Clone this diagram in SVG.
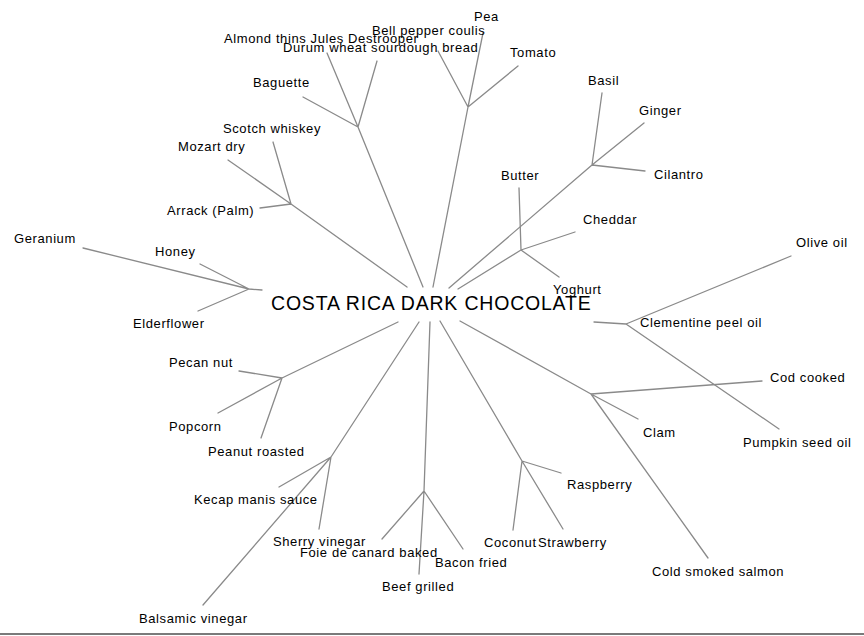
<svg xmlns="http://www.w3.org/2000/svg" width="864" height="636" viewBox="0 0 864 636">
<style>
.e{stroke:#8a8a8a;stroke-width:1.3;fill:none;stroke-linecap:round}
.l{font-family:"Liberation Sans",Arial,sans-serif;font-size:13px;letter-spacing:0.6px;fill:#000}
.t{font-family:"Liberation Sans",Arial,sans-serif;font-size:19.5px;letter-spacing:0.8px;fill:#000}
</style>
<rect width="864" height="636" fill="#fff"/>
<g id="connectors" class="e">
<path d="M423,287 L358,127 M358,127 L303,97 M358,127 L327,53 M358,127 L377,61"/>
<path d="M433,287 L468,107 M468,107 L438,51 M468,107 L483,33 M468,107 L518,66"/>
<path d="M407,287 L291,204 M291,204 L273,142 M291,204 L228,160 M291,204 L260,208"/>
<path d="M262,290 L249,289 M249,289 L83,248 M249,289 L200,264 M249,289 L198,311"/>
<path d="M449,288 L592,165 M592,165 L602,93 M592,165 L644,123 M592,165 L645,171"/>
<path d="M458,289 L521,250 M521,250 L519,188 M521,250 L575,232 M521,250 L559,277"/>
<path d="M594,322 L626,324 M626,324 L791,256 M626,324 L779,429"/>
<path d="M460,321 L591,394 M591,394 L762,381 M591,394 L638,419 M591,394 L708,558"/>
<path d="M440,321 L522,461 M522,461 L561,473 M522,461 L513,530 M522,461 L563,529"/>
<path d="M430,322 L424,491 M424,491 L382,539 M424,491 L419,574 M424,491 L463,549"/>
<path d="M419,322 L331,457 M331,457 L279,487 M331,457 L319,529 M331,457 L203,605"/>
<path d="M398,322 L282,378 M282,378 L239,371 M282,378 L218,413 M282,378 L261,438"/>
</g>
<g id="center"><text class="t" x="271" y="310">COSTA RICA DARK CHOCOLATE</text></g>
<g id="n-almond"><text class="l" x="224" y="43">Almond thins Jules Destrooper</text></g>
<g id="n-durum"><text class="l" x="283" y="52">Durum wheat sourdough bread</text></g>
<g id="n-baguette"><text class="l" x="253" y="87">Baguette</text></g>
<g id="n-bell"><text class="l" x="372" y="35">Bell pepper coulis</text></g>
<g id="n-pea"><text class="l" x="474" y="21">Pea</text></g>
<g id="n-tomato"><text class="l" x="510" y="57">Tomato</text></g>
<g id="n-scotch"><text class="l" x="223" y="133">Scotch whiskey</text></g>
<g id="n-mozart"><text class="l" x="178" y="151">Mozart dry</text></g>
<g id="n-arrack"><text class="l" x="167" y="215">Arrack (Palm)</text></g>
<g id="n-geranium"><text class="l" x="14" y="243">Geranium</text></g>
<g id="n-honey"><text class="l" x="155" y="256">Honey</text></g>
<g id="n-elderflower"><text class="l" x="133" y="328">Elderflower</text></g>
<g id="n-basil"><text class="l" x="588" y="85">Basil</text></g>
<g id="n-ginger"><text class="l" x="639" y="115">Ginger</text></g>
<g id="n-cilantro"><text class="l" x="654" y="179">Cilantro</text></g>
<g id="n-butter"><text class="l" x="501" y="180">Butter</text></g>
<g id="n-cheddar"><text class="l" x="583" y="224">Cheddar</text></g>
<g id="n-yoghurt"><text class="l" x="553" y="294">Yoghurt</text></g>
<g id="n-olive"><text class="l" x="796" y="247">Olive oil</text></g>
<g id="n-clementine"><text class="l" x="640" y="327">Clementine peel oil</text></g>
<g id="n-pumpkin"><text class="l" x="743" y="447">Pumpkin seed oil</text></g>
<g id="n-cod"><text class="l" x="770" y="382">Cod cooked</text></g>
<g id="n-clam"><text class="l" x="643" y="437">Clam</text></g>
<g id="n-salmon"><text class="l" x="652" y="576">Cold smoked salmon</text></g>
<g id="n-raspberry"><text class="l" x="567" y="489">Raspberry</text></g>
<g id="n-coconut"><text class="l" x="484" y="547">Coconut</text></g>
<g id="n-strawberry"><text class="l" x="538" y="547">Strawberry</text></g>
<g id="n-bacon"><text class="l" x="435" y="567">Bacon fried</text></g>
<g id="n-foie"><text class="l" x="300" y="557">Foie de canard baked</text></g>
<g id="n-beef"><text class="l" x="382" y="591">Beef grilled</text></g>
<g id="n-kecap"><text class="l" x="194" y="504">Kecap manis sauce</text></g>
<g id="n-sherry"><text class="l" x="273" y="546">Sherry vinegar</text></g>
<g id="n-balsamic"><text class="l" x="139" y="623">Balsamic vinegar</text></g>
<g id="n-pecan"><text class="l" x="169" y="367">Pecan nut</text></g>
<g id="n-popcorn"><text class="l" x="169" y="431">Popcorn</text></g>
<g id="n-peanut"><text class="l" x="208" y="456">Peanut roasted</text></g>
<rect x="0" y="633" width="864" height="2" fill="#7a7a7a"/>
</svg>
